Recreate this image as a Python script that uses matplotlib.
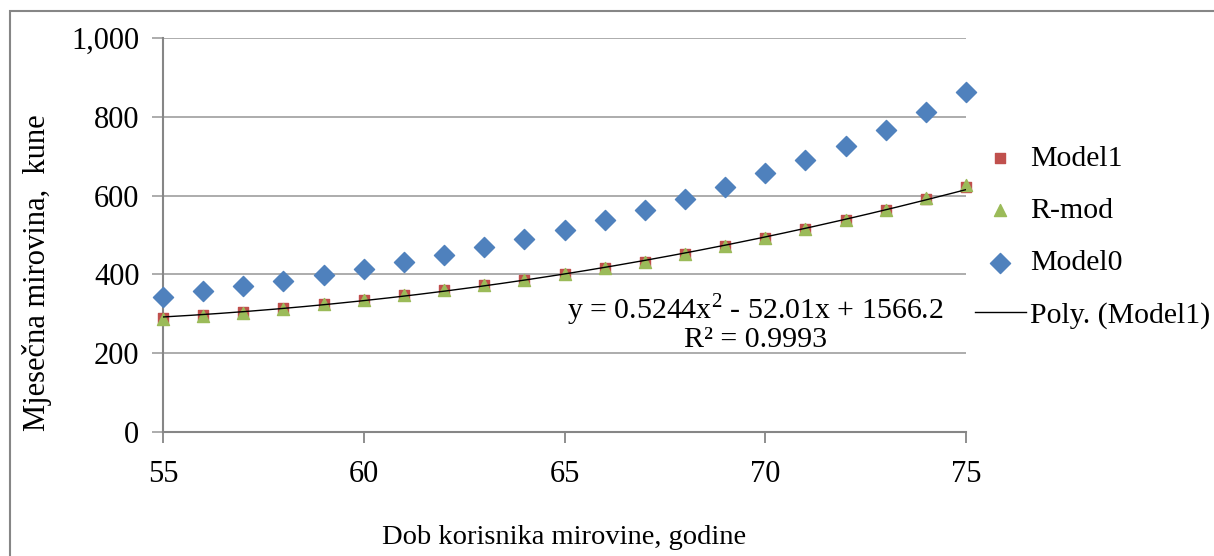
import numpy as np
import matplotlib
matplotlib.use("Agg")
import matplotlib.pyplot as plt
from matplotlib.patches import Rectangle

plt.rcParams['font.family'] = ['Liberation Serif', 'DejaVu Serif']
plt.rcParams['mathtext.fontset'] = 'custom'
plt.rcParams['mathtext.rm'] = 'Liberation Serif'

age = [55, 56, 57, 58, 59, 60, 61, 62, 63, 64, 65,
       66, 67, 68, 69, 70, 71, 72, 73, 74, 75]
model1 = [289, 296, 304, 314, 325, 336, 348, 360, 373, 387, 401,
          416, 432, 452, 472, 492, 514, 538, 564, 592, 622]
rmod = [287, 295, 303, 313, 325, 336, 348, 360, 373, 387, 401,
        416, 432, 452, 472, 492, 514, 538, 564, 593, 626]
model0 = [343, 358, 371, 383, 398, 414, 431, 449, 470, 490, 513,
          538, 563, 591, 622, 657, 690, 726, 766, 812, 863]
# trendline coefficients as shown on the chart
poly_coef = [0.5244, -52.01, 1566.2]

FS = 21.5

fig = plt.figure(figsize=(12.14, 5.56), dpi=100)
fig.patches.append(Rectangle((10 / 1214, -0.1), 1.2, (556 - 11) / 556 + 0.1,
                             transform=fig.transFigure, fill=False,
                             edgecolor='#868686', lw=1.5))
ax = fig.add_axes([163 / 1214, (556 - 432) / 556, 803 / 1214, 394 / 556])

ax.scatter(age, model1, marker='s', s=55, color='#C0504D', label='Model1', zorder=3, clip_on=False)
ax.scatter(age, rmod, marker='^', s=75, color='#9BBB59', label='R-mod', zorder=4, clip_on=False)
ax.scatter(age, model0, marker='D', s=105, color='#4F81BD', label='Model0', zorder=3, clip_on=False)
xs = np.linspace(55, 75, 200)
ax.plot(xs, np.polyval(poly_coef, xs), color='black', lw=1, label='Poly. (Model1)', zorder=5)

ax.text(69.75, 311, r'y = 0.5244x$^\mathrm{2}$ - 52.01x + 1566.2', ha='center', va='center', fontsize=FS)
ax.text(69.75, 234, 'R² = 0.9993', ha='center', va='center', fontsize=FS)

ax.set_xlim(55, 75)
ax.set_ylim(0, 1000)
ax.set_xticks([55, 60, 65, 70, 75])
ax.set_yticks(range(0, 1001, 200))
ax.set_yticklabels(['0', '200', '400', '600', '800', '1,000'])
ax.grid(axis='y', color='#A6A6A6', lw=1.3)
ax.set_axisbelow(True)
for s in ['top', 'right']:
    ax.spines[s].set_visible(False)
ax.spines['left'].set_color('#868686')
ax.spines['bottom'].set_color('#868686')
ax.spines['left'].set_linewidth(1.5)
ax.spines['bottom'].set_linewidth(1.5)
ax.tick_params(axis='y', length=8, color='#A6A6A6', width=1.3, labelsize=22, pad=9)
ax.tick_params(axis='x', length=8, color='#868686', width=1.3, labelsize=22, pad=12)

ax.set_xlabel('Dob korisnika mirovine, godine', fontsize=20.5, labelpad=26)
ax.set_ylabel('Mjesečna mirovina,  kune', fontsize=22)
ax.yaxis.set_label_coords(-0.138, 0.404)

fig.legend(loc='upper left', bbox_to_anchor=(975 / 1214, 1 - 145 / 556), frameon=False,
           fontsize=FS, handlelength=1.7, handletextpad=0.15, labelspacing=0.85,
           borderaxespad=0, borderpad=0)

fig.savefig('out.png', dpi=100)
